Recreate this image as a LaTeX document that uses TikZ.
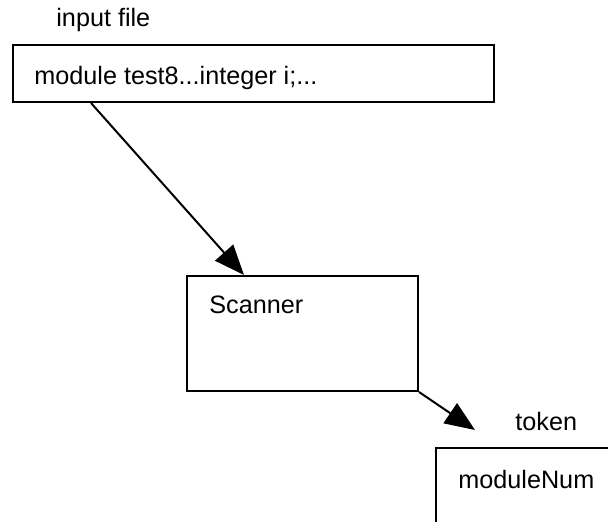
\documentclass[tikz,border=0pt]{standalone}
\usepackage{fontspec}
\setmainfont{Liberation Sans}
\usetikzlibrary{arrows.meta,calc}

\begin{document}
\begin{tikzpicture}[
x=0.5pt, y=-0.5pt,
box/.style={
rectangle,
draw,
line width=1pt,
inner sep=0pt
},
caption/.style={
inner sep=0pt,
font=\fontsize{12.6}{15}\selectfont
},
arrow/.style={
-{Triangle[length=15pt,width=12pt]},
line width=1pt
}
]
\clip (0,0) rectangle (608,522);
% Dobozok
\node[box, minimum width=240.5pt, minimum height=28.5pt] (input-file) at (253.5,73.5) {};
\node[box, minimum width=115.5pt, minimum height=57.5pt] (scanner) at (302.5,333.5) {};
\node[box, minimum width=90pt, minimum height=61pt] (token-box) at (526,509) {};

% Feliratok
\node[caption, anchor=base west] (input-label) at (56,27) {input file};
\node[caption, anchor=base west] (input-text) at (34,85) {module test8...integer i;...};
\node[caption, anchor=base west] (scanner-text) at (209,314) {Scanner};
\node[caption, anchor=base west] (token-label) at (515,430) {token};
\node[caption, anchor=base west] (token-text) at (458,488) {moduleNum};
\coordinate (token-tip) at (475,430);

% Kapcsolatok
\draw[arrow] ($(input-file.south west)+(79,0)$) -- ($(scanner.north west)+(58,0)$);
\draw[arrow] (scanner.south east) -- (token-tip);
\end{tikzpicture}
\end{document}
